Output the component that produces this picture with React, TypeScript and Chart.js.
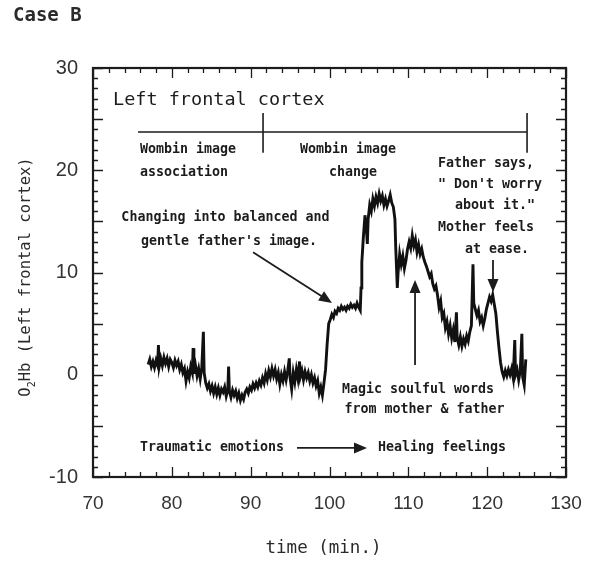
import React, { useEffect, useRef } from "react";
import { Chart, registerables } from "chart.js";

Chart.register(...registerables);

// time (min.)
const times: number[] = [
  77.0, 77.2, 77.4, 77.6, 77.8, 78.0, 78.2, 78.3, 78.4, 78.6, 78.8, 79.0, 79.2, 79.4, 79.6, 79.8,
  80.0, 80.2, 80.4, 80.6, 80.8, 81.0, 81.2, 81.4, 81.6, 81.8, 82.0, 82.2, 82.4, 82.6, 82.7, 82.8,
  83.0, 83.2, 83.4, 83.6, 83.8, 84.0, 84.1, 84.3, 84.5, 84.7, 84.9, 85.1, 85.3, 85.5, 85.7, 85.9,
  86.1, 86.3, 86.5, 86.7, 86.9, 87.1, 87.2, 87.3, 87.5, 87.7, 87.9, 88.1, 88.3, 88.5, 88.7, 88.9,
  89.1, 89.3, 89.5, 89.7, 89.9, 90.1, 90.3, 90.5, 90.7, 90.9, 91.1, 91.3, 91.5, 91.7, 91.9, 92.1,
  92.3, 92.5, 92.7, 92.9, 93.1, 93.3, 93.5, 93.7, 93.9, 94.1, 94.3, 94.5, 94.7, 94.9, 95.0, 95.2,
  95.4, 95.6, 95.8, 96.0, 96.2, 96.3, 96.5, 96.7, 96.9, 97.1, 97.3, 97.5, 97.7, 97.9, 98.1, 98.3,
  98.5, 98.7, 98.9, 99.1, 99.3, 99.5, 99.7, 99.9, 100.1, 100.3, 100.5, 100.7, 100.9, 101.1, 101.3,
  101.5, 101.7, 101.9, 102.1, 102.3, 102.5, 102.7, 102.9, 103.1, 103.3, 103.5, 103.7, 103.9, 104.0,
  104.1, 104.3, 104.5, 104.7, 104.8, 104.9, 105.1, 105.3, 105.5, 105.7, 105.9, 106.1, 106.3, 106.5,
  106.7, 106.9, 107.1, 107.3, 107.5, 107.7, 107.9, 108.1, 108.3, 108.4, 108.5, 108.6, 108.7, 108.9,
  109.1, 109.3, 109.5, 109.7, 109.9, 110.1, 110.3, 110.5, 110.7, 110.9, 111.1, 111.3, 111.5, 111.7,
  111.9, 112.1, 112.3, 112.5, 112.7, 112.9, 113.1, 113.3, 113.5, 113.7, 113.9, 114.1, 114.3, 114.5,
  114.7, 114.9, 115.1, 115.3, 115.5, 115.7, 115.9, 116.1, 116.2, 116.4, 116.6, 116.8, 117.0, 117.2,
  117.4, 117.6, 117.8, 118.0, 118.2, 118.3, 118.5, 118.7, 118.9, 119.1, 119.3, 119.5, 119.7, 119.9,
  120.1, 120.3, 120.5, 120.7, 120.9, 121.1, 121.3, 121.5, 121.7, 121.9, 122.1, 122.3, 122.5, 122.7,
  122.9, 123.1, 123.3, 123.5, 123.6, 123.8, 124.0, 124.2, 124.4, 124.5, 124.7, 124.9,
];

// O2Hb (Left frontal cortex)
const values: number[] = [
  1.0, 1.5, 0.8, 1.3, 0.7, 1.4, 0.9, 2.9, 0.8, 1.6, 0.9, 1.7, 1.1, 1.6, 0.8, 1.5,
  1.2, 0.7, 1.4, 0.9, 1.3, 0.5, 1.0, 0.2, 0.6, -0.6, 0.3, -0.3, 0.8, 0.2, 2.6, 0.1,
  0.9, -0.1, 0.6, -0.4, 0.7, 4.2, 0.2, -0.8, -1.3, -0.9, -1.6, -1.1, -1.8, -1.2, -1.9, -1.3,
  -2.0, -1.4, -1.7, -1.2, -2.1, -1.5, 0.8, -1.6, -2.2, -1.5, -2.0, -1.6, -2.3, -1.8, -2.5, -2.0,
  -2.4, -1.7, -1.4, -1.8, -1.2, -1.5, -0.9, -1.3, -0.8, -1.2, -0.6, -1.0, -0.3, -0.8, 0.1, -0.5,
  0.4, -0.2, 0.6, -0.1, 0.5, -0.4, 0.2, -0.9, 0.0, -0.6, 0.3, -0.5, 0.4, 1.6, -0.3, -1.4,
  0.2, -0.7, 0.5, -0.4, 1.3, -0.2, 0.4, -0.5, 0.3, -0.3, 0.2, -0.6, 0.0, -0.8, -0.3, -1.1,
  -0.6, -1.8, -1.2, -2.0, -0.8, 0.5, 3.0, 5.0, 5.4, 5.9, 5.6, 6.2, 6.0, 6.5, 6.3,
  6.7, 6.4, 6.6, 6.3, 6.7, 6.5, 6.9, 6.6, 6.8, 6.5, 7.0, 6.6, 6.3, 8.5,
  11.0, 13.5, 15.6, 14.0, 12.8, 15.2, 16.6, 16.0, 17.2, 16.5, 17.4, 16.8, 17.7, 17.0,
  17.5, 16.6, 17.2, 16.5, 17.0, 17.6, 16.8, 16.4, 15.2, 12.5, 10.5, 8.5, 10.0, 11.8,
  10.8, 11.6, 10.4, 11.2, 12.3, 13.0, 12.4, 13.6, 12.6, 13.2, 12.0, 12.7, 11.8, 12.3,
  11.5, 11.0, 10.6, 10.1, 9.6, 9.9, 8.9, 8.4, 8.7, 7.8, 6.6, 7.2, 5.6, 6.0,
  4.6, 5.2, 4.0, 4.8, 3.6, 4.4, 3.2, 6.1, 3.6, 2.9, 3.7, 2.8, 3.5, 3.0,
  3.8, 3.3, 4.2, 4.8, 10.8, 7.0, 6.4, 5.8, 6.3, 5.2, 5.6, 4.8, 5.5, 6.4,
  7.0, 7.6, 7.2, 7.8, 6.9, 6.0, 4.2, 2.6, 1.2, 0.3, -0.2, 0.4, -0.1, 0.5,
  0.0, 0.6, -0.3, 3.4, 0.0, 0.5, -0.5, 0.4, 4.0, -0.2, -1.0, 1.5,
];

const xTickValues: number[] = [70, 80, 90, 100, 110, 120, 130];
const yTickValues: number[] = [-10, 0, 10, 20, 30];

const titleText = "Case B";
const xTitle = "time (min.)";
const yTitleMain = "O";
const yTitleSub = "2";
const yTitleRest = "Hb (Left frontal cortex)";

// annotations in data units
const panelLabel = { text: "Left frontal cortex", x: 72.54, y: 26.9 };
const bracket = { y: 23.74, x0: 75.71, xMid: 91.57, x1: 125.06, tickTop: 25.6, tickBottom: 21.7 };
const phaseLabels = [
  { text: "Wombin image", x: 75.96, y: 22.0, align: "left" },
  { text: "association", x: 75.96, y: 19.8, align: "left" },
  { text: "Wombin image", x: 102.35, y: 22.0, align: "center" },
  { text: "change", x: 102.98, y: 19.8, align: "center" },
  { text: "Father says,", x: 113.77, y: 20.7, align: "left" },
  { text: "\" Don't worry", x: 113.77, y: 18.56, align: "left" },
  { text: "about it.\"", x: 115.92, y: 16.5, align: "left" },
  { text: "Mother feels", x: 113.77, y: 14.35, align: "left" },
  { text: "at ease.", x: 117.19, y: 12.2, align: "left" },
  { text: "Changing into balanced and", x: 86.8, y: 15.33, align: "center" },
  { text: "gentle father's image.", x: 87.25, y: 12.98, align: "center" },
  { text: "Magic soulful words", x: 111.23, y: -1.49, align: "center" },
  { text: "from mother & father", x: 112.05, y: -3.45, align: "center" },
  { text: "Traumatic emotions", x: 75.96, y: -7.16, align: "left" },
  { text: "Healing feelings", x: 106.15, y: -7.16, align: "left" },
];
const arrows = [
  { x0: 90.3, y0: 11.98, x1: 100.32, y1: 7.02 },
  { x0: 110.85, y0: 0.95, x1: 110.85, y1: 9.27 },
  { x0: 120.74, y0: 11.22, x1: 120.74, y1: 8.09 },
  { x0: 95.88, y0: -7.16, x1: 104.76, y1: -7.16 },
];

const INK = "#1c1c1c";
const MONO = "'DejaVu Sans Mono', 'Liberation Mono', monospace";

function drawArrow(ctx: CanvasRenderingContext2D, x0: number, y0: number, x1: number, y1: number) {
  const ang = Math.atan2(y1 - y0, x1 - x0);
  const hl = 13;
  const hw = 5.5;
  ctx.beginPath();
  ctx.moveTo(x0, y0);
  ctx.lineTo(x1 - Math.cos(ang) * hl * 0.8, y1 - Math.sin(ang) * hl * 0.8);
  ctx.lineWidth = 1.8;
  ctx.strokeStyle = INK;
  ctx.stroke();
  ctx.beginPath();
  ctx.moveTo(x1, y1);
  ctx.lineTo(x1 - Math.cos(ang) * hl - Math.sin(ang) * hw, y1 - Math.sin(ang) * hl + Math.cos(ang) * hw);
  ctx.lineTo(x1 - Math.cos(ang) * hl + Math.sin(ang) * hw, y1 - Math.sin(ang) * hl - Math.cos(ang) * hw);
  ctx.closePath();
  ctx.fillStyle = INK;
  ctx.fill();
}

const decorPlugin = {
  id: "decor",
  afterDatasetsDraw(chart: any) {
    const { ctx, chartArea: a, scales } = chart;
    const xs = scales.x;
    const ys = scales.y;
    ctx.save();
    // frame
    ctx.strokeStyle = INK;
    ctx.lineWidth = 2.2;
    ctx.strokeRect(a.left, a.top, a.right - a.left, a.bottom - a.top);
    // inner ticks
    ctx.lineWidth = 1.3;
    ctx.beginPath();
    for (let v = -10; v <= 30; v += 1) {
      const py = Math.round(ys.getPixelForValue(v)) + 0.5;
      const len = v % 5 === 0 ? 10 : 5;
      ctx.moveTo(a.left, py);
      ctx.lineTo(a.left + len, py);
      ctx.moveTo(a.right, py);
      ctx.lineTo(a.right - len, py);
    }
    for (let t = 70; t <= 130; t += 2) {
      const px = Math.round(xs.getPixelForValue(t)) + 0.5;
      const len = t % 10 === 0 ? 10 : 5;
      ctx.moveTo(px, a.bottom);
      ctx.lineTo(px, a.bottom - len);
      ctx.moveTo(px, a.top);
      ctx.lineTo(px, a.top + len);
    }
    ctx.stroke();

    // panel label
    ctx.fillStyle = INK;
    ctx.textBaseline = "middle";
    ctx.font = `18.5px ${MONO}`;
    ctx.textAlign = "left";
    ctx.fillText(panelLabel.text, xs.getPixelForValue(panelLabel.x), ys.getPixelForValue(panelLabel.y));

    // bracket
    ctx.lineWidth = 1.6;
    ctx.beginPath();
    const by = ys.getPixelForValue(bracket.y);
    ctx.moveTo(xs.getPixelForValue(bracket.x0), by);
    ctx.lineTo(xs.getPixelForValue(bracket.x1), by);
    for (const bx of [bracket.xMid, bracket.x1]) {
      const px = xs.getPixelForValue(bx);
      ctx.moveTo(px, ys.getPixelForValue(bracket.tickTop));
      ctx.lineTo(px, ys.getPixelForValue(bracket.tickBottom));
    }
    ctx.stroke();

    // labels
    ctx.font = `bold 13.3px ${MONO}`;
    for (const l of phaseLabels) {
      ctx.textAlign = l.align as CanvasTextAlign;
      ctx.fillText(l.text, xs.getPixelForValue(l.x), ys.getPixelForValue(l.y));
    }
    for (const ar of arrows) {
      drawArrow(
        ctx,
        xs.getPixelForValue(ar.x0),
        ys.getPixelForValue(ar.y0),
        xs.getPixelForValue(ar.x1),
        ys.getPixelForValue(ar.y1)
      );
    }

    // outer titles
    ctx.fillStyle = "#2a2a2a";
    ctx.textAlign = "left";
    ctx.font = `bold 19px ${MONO}`;
    ctx.fillText(titleText, 13, 16);

    ctx.font = `17.5px ${MONO}`;
    ctx.textAlign = "center";
    ctx.fillText(xTitle, (a.left + a.right) / 2 - 6, 548);

    // rotated y title with subscript
    ctx.save();
    ctx.translate(26, 277);
    ctx.rotate(-Math.PI / 2);
    ctx.font = `15.5px ${MONO}`;
    const wMain = ctx.measureText(yTitleMain).width;
    const wRest = ctx.measureText(yTitleRest).width;
    ctx.font = `10px ${MONO}`;
    const wSub = ctx.measureText(yTitleSub).width;
    const total = wMain + wSub + wRest;
    let cx = -total / 2;
    ctx.textAlign = "left";
    ctx.font = `15.5px ${MONO}`;
    ctx.fillText(yTitleMain, cx, 0);
    cx += wMain;
    ctx.font = `10px ${MONO}`;
    ctx.fillText(yTitleSub, cx, 6);
    cx += wSub;
    ctx.font = `15.5px ${MONO}`;
    ctx.fillText(yTitleRest, cx, 0);
    ctx.restore();

    ctx.restore();
  },
};

export default function App() {
  const canvasRef = useRef<HTMLCanvasElement | null>(null);

  useEffect(() => {
    const canvas = canvasRef.current;
    if (!canvas) return;
    const points = times.map((t, i) => ({ x: t, y: values[i] }));
    const chart = new Chart(canvas, {
      type: "line",
      data: {
        datasets: [
          {
            data: points,
            borderColor: "#111",
            borderWidth: 2.9,
            pointRadius: 0,
            tension: 0,
            fill: false,
          },
        ],
      },
      options: {
        responsive: false,
        animation: false,
        events: [],
        layout: { padding: { left: 0, top: 68, right: 33, bottom: 0 } },
        plugins: { legend: { display: false }, tooltip: { enabled: false }, title: { display: false } },
        scales: {
          x: {
            type: "linear",
            min: 70,
            max: 130,
            afterBuildTicks: (s: any) => {
              s.ticks = xTickValues.map((v) => ({ value: v }));
            },
            afterFit: (s: any) => {
              s.height = 85;
            },
            grid: { display: false, drawTicks: false },
            border: { display: false },
            ticks: {
              padding: 15,
              color: "#333",
              font: { family: "'Liberation Sans', Arial, sans-serif", size: 19 },
              maxRotation: 0,
            },
          },
          y: {
            type: "linear",
            min: -10,
            max: 30,
            afterBuildTicks: (s: any) => {
              s.ticks = yTickValues.map((v) => ({ value: v }));
            },
            afterFit: (s: any) => {
              s.width = 93;
            },
            grid: { display: false, drawTicks: false },
            border: { display: false },
            ticks: {
              padding: 15,
              color: "#333",
              font: { family: "'Liberation Sans', Arial, sans-serif", size: 20 },
            },
          },
        },
      },
      plugins: [decorPlugin],
    });
    return () => chart.destroy();
  }, []);

  return (
    <div style={{ position: "absolute", left: 0, top: 0, width: 599, height: 562, background: "#fff" }}>
      <canvas ref={canvasRef} width={599} height={562} style={{ display: "block" }} />
    </div>
  );
}
